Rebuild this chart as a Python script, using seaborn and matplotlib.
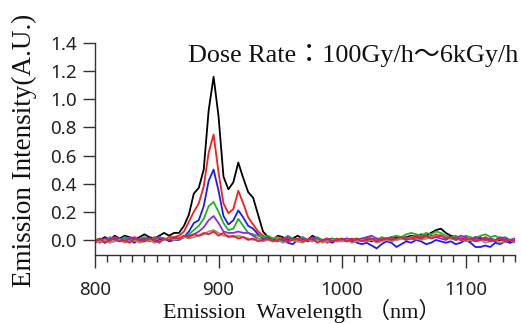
import numpy as np
import pandas as pd
import matplotlib
matplotlib.use('Agg')
import matplotlib.pyplot as plt
import seaborn as sns
from matplotlib.ticker import MultipleLocator, FixedLocator

wavelength = np.arange(800, 1141, 4)

black = [-0.01, 0.00, 0.02, 0.00, 0.03, 0.01, 0.03, 0.02, 0.00, 0.02,
         0.04, 0.02, 0.01, 0.03, 0.05, 0.03, 0.05, 0.05, 0.10, 0.18,
         0.33, 0.37, 0.50, 0.92, 1.16, 0.88, 0.45, 0.36, 0.41, 0.55,
         0.44, 0.34, 0.30, 0.18, 0.06, 0.02, 0.00, 0.03, 0.02, 0.00,
         0.01, 0.03, 0.01, 0.00, 0.03, 0.01, -0.01, 0.00, 0.01, -0.01,
         0.00, 0.01, -0.01, 0.00, 0.01, 0.00, -0.01, 0.01, 0.00, 0.01,
         0.00, 0.02, 0.01, 0.02, 0.03, 0.02, 0.04, 0.03, 0.05, 0.07,
         0.08, 0.05, 0.03, 0.02, 0.00, 0.01, 0.00, 0.02, 0.01, 0.00,
         0.01, -0.01, 0.00, 0.01, -0.01, 0.00]

red = [0.00, -0.02, 0.01, -0.01, 0.02, 0.00, -0.01, 0.02, 0.01, -0.01,
       0.01, 0.00, 0.02, 0.01, 0.00, 0.02, 0.02, 0.03, 0.06, 0.13,
       0.20, 0.26, 0.38, 0.62, 0.75, 0.48, 0.26, 0.19, 0.22, 0.35,
       0.26, 0.16, 0.11, 0.06, 0.03, 0.01, 0.00, 0.02, -0.01, 0.01,
       0.00, -0.01, 0.02, 0.00, -0.01, 0.01, 0.00, -0.02, 0.00, 0.01,
       -0.01, 0.00, 0.01, -0.01, 0.00, 0.01, 0.00, -0.01, 0.01, 0.00,
       0.01, 0.00, 0.02, 0.01, 0.02, 0.03, 0.02, 0.03, 0.02, 0.04,
       0.03, 0.02, 0.01, 0.02, 0.00, 0.01, -0.01, 0.01, 0.00, 0.02,
       0.00, -0.01, 0.01, 0.00, -0.02, 0.00]

blue = [-0.01, 0.00, -0.02, 0.01, 0.00, -0.01, 0.02, 0.00, -0.02, 0.01,
        0.00, 0.02, -0.01, 0.00, 0.01, -0.01, 0.00, 0.00, 0.02, 0.06,
        0.12, 0.14, 0.24, 0.42, 0.50, 0.35, 0.17, 0.11, 0.14, 0.21,
        0.16, 0.10, 0.08, 0.04, 0.01, 0.00, 0.01, -0.01, 0.00, -0.02,
        -0.03, 0.00, 0.01, -0.01, 0.00, 0.01, -0.01, 0.00, -0.02, 0.00,
        0.00, -0.01, 0.00, -0.02, -0.03, -0.02, -0.04, -0.06, -0.03, -0.01,
        -0.02, -0.05, -0.03, -0.01, -0.02, 0.00, -0.01, -0.03, -0.02, 0.00,
        -0.01, -0.02, -0.01, -0.03, -0.02, 0.00, -0.02, -0.05, -0.05, -0.04,
        -0.05, -0.02, -0.03, -0.01, -0.02, -0.01]

green = [0.00, 0.01, -0.01, 0.02, 0.01, 0.00, 0.02, 0.01, -0.01, 0.01,
         0.02, 0.00, 0.01, 0.02, 0.00, 0.01, 0.02, 0.00, 0.02, 0.04,
         0.07, 0.10, 0.15, 0.24, 0.27, 0.20, 0.12, 0.07, 0.08, 0.15,
         0.10, 0.05, 0.04, 0.03, 0.02, 0.03, 0.01, 0.02, 0.00, 0.03,
         0.01, 0.00, 0.02, 0.00, 0.01, 0.02, 0.00, -0.01, 0.01, 0.00,
         0.01, -0.01, 0.00, 0.01, 0.00, 0.02, 0.01, 0.00, 0.02, 0.01,
         0.02, 0.03, 0.02, 0.04, 0.05, 0.04, 0.03, 0.05, 0.04, 0.06,
         0.05, 0.03, 0.02, 0.03, 0.01, 0.03, 0.02, 0.01, 0.03, 0.04,
         0.02, 0.03, 0.01, 0.02, 0.00, 0.01]

purple = [0.00, -0.01, 0.01, 0.00, 0.02, 0.01, -0.01, 0.01, 0.02, 0.00,
          0.01, -0.01, 0.00, 0.02, 0.01, 0.00, 0.01, 0.01, 0.02, 0.03,
          0.04, 0.06, 0.09, 0.14, 0.17, 0.12, 0.06, 0.05, 0.05, 0.06,
          0.05, 0.05, 0.03, 0.01, 0.00, 0.01, 0.00, -0.01, 0.01, 0.02,
          0.00, -0.01, 0.01, 0.00, 0.02, 0.00, -0.01, 0.01, 0.00, -0.01,
          0.00, 0.01, 0.00, -0.01, 0.01, 0.02, 0.03, 0.01, 0.00, 0.01,
          0.02, 0.00, 0.01, 0.02, 0.01, 0.00, 0.02, 0.01, 0.03, 0.02,
          0.01, 0.00, 0.02, 0.01, 0.03, 0.02, 0.00, 0.01, 0.02, 0.00,
          0.01, 0.00, 0.02, 0.01, 0.00, 0.01]

brown = [-0.02, -0.01, 0.00, -0.02, -0.01, 0.00, -0.02, -0.01, 0.00, -0.02,
         -0.01, 0.00, -0.02, -0.01, 0.00, 0.01, 0.00, 0.01, 0.02, 0.01,
         0.02, 0.03, 0.04, 0.06, 0.07, 0.05, 0.03, 0.03, 0.02, 0.03,
         0.02, 0.01, 0.00, 0.01, -0.01, 0.00, -0.01, 0.00, -0.02, -0.01,
         0.00, -0.01, -0.02, 0.00, -0.01, 0.00, -0.02, -0.01, 0.00, -0.01,
         -0.01, 0.00, -0.02, -0.01, 0.00, -0.01, 0.00, -0.02, -0.01, 0.00,
         -0.01, 0.00, 0.01, 0.00, 0.02, 0.01, 0.00, 0.01, 0.02, 0.03,
         0.04, 0.02, 0.01, 0.00, 0.01, -0.01, 0.00, -0.01, 0.00, -0.02,
         -0.01, 0.00, -0.02, -0.01, 0.00, -0.02]

crimson = [-0.01, 0.01, -0.02, 0.00, 0.01, -0.01, 0.00, -0.02, 0.01, 0.00,
           -0.01, 0.01, 0.00, -0.02, 0.01, 0.00, 0.02, 0.01, 0.03, 0.02,
           0.04, 0.03, 0.05, 0.04, 0.06, 0.03, 0.05, 0.02, 0.03, 0.01,
           0.02, 0.00, 0.01, -0.01, 0.00, 0.01, -0.01, 0.00, 0.01, -0.01,
           0.00, 0.01, -0.01, 0.00, 0.01, -0.02, 0.00, 0.01, -0.01, 0.00,
           0.01, -0.01, 0.00, 0.01, -0.01, 0.00, 0.01, -0.01, 0.00, 0.01,
           0.00, 0.01, 0.02, 0.00, 0.01, 0.02, 0.01, 0.03, 0.01, 0.02,
           0.03, 0.01, 0.02, 0.00, 0.01, 0.00, 0.01, -0.01, 0.00, 0.01,
           -0.01, 0.00, 0.01, -0.01, 0.00, -0.01]

series_names = ['black', 'red', 'blue', 'green', 'purple', 'brown', 'crimson']
series_values = [black, red, blue, green, purple, brown, crimson]
series_colors = ['#000000', '#ff1a1a', '#1a1aff', '#1fb31f', '#8f2be0', '#a88a70', '#e0203c']

x_ticks = [800, 900, 1000, 1100]
y_ticks = [0.0, 0.2, 0.4, 0.6, 0.8, 1.0, 1.2, 1.4]
y_tick_labels = ['0.0', '0.2', '0.4', '0.6', '0.8', '1.0', '1.2', '1.4']

title_text = 'Dose Rate：100Gy/h～6kGy/h'
xlabel_text = 'Emission  Wavelength （nm）'
ylabel_text = 'Emission Intensity(A.U.)'

frames = []
for name, vals in zip(series_names, series_values):
    assert len(vals) == len(wavelength), (name, len(vals))
    frames.append(pd.DataFrame({'wavelength': wavelength, 'intensity': vals, 'series': name}))
df = pd.concat(frames, ignore_index=True)

sns.set_style('ticks')
plt.rcParams['font.family'] = ['Noto Sans', 'DejaVu Sans']
serif = ['Liberation Serif', 'Noto Sans CJK JP']

fig = plt.figure(figsize=(5.21, 3.24), dpi=100)
ax = fig.add_axes([95 / 521, 1 - 255 / 324, 420 / 521, (255 - 43) / 324])

sns.lineplot(data=df, x='wavelength', y='intensity', hue='series',
             hue_order=series_names, palette=dict(zip(series_names, series_colors)),
             estimator=None, sort=False, legend=False, linewidth=1.3, ax=ax)

ax.set_xlim(800, 1140)
ax.set_ylim(-0.107, 1.4)
ax.xaxis.set_major_locator(FixedLocator(x_ticks))
ax.xaxis.set_minor_locator(MultipleLocator(10))
ax.set_yticks(y_ticks)
ax.set_yticklabels(y_tick_labels)
for s in ['top', 'right']:
    ax.spines[s].set_visible(False)
for s in ['left', 'bottom']:
    ax.spines[s].set_color('#333333')
    ax.spines[s].set_linewidth(1.0)

ax.tick_params(axis='x', which='major', direction='out', length=9, width=1.0,
               color='#333333', labelsize=13.5, labelcolor='#222222', pad=10)
ax.tick_params(axis='x', which='minor', direction='out', length=5, width=1.0, color='#333333')
ax.tick_params(axis='y', which='major', direction='out', length=9, width=1.0,
               color='#333333', labelsize=13.5, labelcolor='#222222', pad=4)

ax.set_xlabel('')
ax.set_ylabel('')
fig.text(302 / 521, 1 - 318 / 324, xlabel_text, ha='center', va='baseline',
         family=serif, fontsize=16, color='#111111')
fig.text(24 / 521, 1 - 150 / 324, ylabel_text, ha='center', va='center',
         rotation=90, family=serif, fontsize=19.5, color='#111111')
fig.text(518 / 521, 1 - 62 / 324, title_text, ha='right', va='baseline',
         family=serif, fontsize=18.8, color='#111111')

fig.savefig('out.png', dpi=100)
